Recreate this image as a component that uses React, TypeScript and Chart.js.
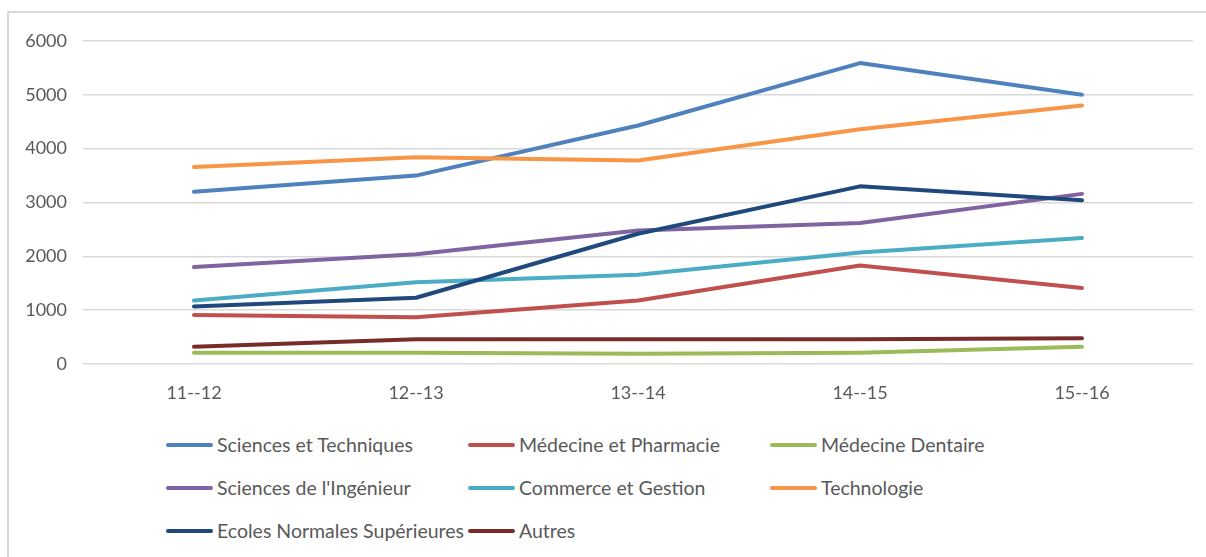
import React, { useEffect, useRef } from "react";
import { Chart, registerables } from "chart.js";

Chart.register(...registerables);

const categories = ["11--12", "12--13", "13--14", "14--15", "15--16"];
const yTicks = [0, 1000, 2000, 3000, 4000, 5000, 6000];

const seriesNames = [
  "Sciences et Techniques",
  "Médecine et Pharmacie",
  "Médecine Dentaire",
  "Sciences de l'Ingénieur",
  "Commerce et Gestion",
  "Technologie",
  "Ecoles Normales Supérieures",
  "Autres",
];
const seriesColors = [
  "#4F81BD",
  "#C0504D",
  "#9BBB59",
  "#8064A2",
  "#4BACC6",
  "#F79646",
  "#1F497D",
  "#772C2A",
];

const sciencesTechniques = [3200, 3500, 4430, 5590, 5000];
const medecinePharmacie = [910, 870, 1180, 1830, 1410];
const medecineDentaire = [210, 210, 190, 210, 320];
const sciencesIngenieur = [1800, 2040, 2480, 2620, 3160];
const commerceGestion = [1180, 1520, 1660, 2070, 2340];
const technologie = [3660, 3840, 3780, 4360, 4800];
const ecolesNormales = [1070, 1230, 2420, 3300, 3040];
const autres = [320, 460, 460, 460, 480];

const seriesValues = [
  sciencesTechniques,
  medecinePharmacie,
  medecineDentaire,
  sciencesIngenieur,
  commerceGestion,
  technologie,
  ecolesNormales,
  autres,
];

const FONT = "Lato, 'Open Sans', sans-serif";
const TEXT = "#595959";

export default function App() {
  const canvasRef = useRef<HTMLCanvasElement | null>(null);

  useEffect(() => {
    if (!canvasRef.current) return;
    const chart = new Chart(canvasRef.current, {
      type: "line",
      data: {
        labels: categories,
        datasets: seriesNames.map((name, i) => ({
          label: name,
          data: seriesValues[i],
          borderColor: seriesColors[i],
          backgroundColor: seriesColors[i],
          borderWidth: 4,
          borderCapStyle: "round" as const,
          borderJoinStyle: "round" as const,
          pointRadius: 0,
          tension: 0,
          order: seriesNames.length - i,
        })),
      },
      options: {
        animation: false,
        responsive: false,
        maintainAspectRatio: false,
        layout: { padding: { left: 0, right: 13, top: 41, bottom: 0 } },
        plugins: {
          legend: { display: false },
          tooltip: { enabled: false },
        },
        scales: {
          x: {
            offset: true,
            grid: { display: false, drawTicks: false },
            border: { display: false },
            ticks: {
              color: TEXT,
              font: { family: FONT, size: 18 },
              padding: 18,
              maxRotation: 0,
            },
            afterFit: (s: any) => {
              s.height = 56;
            },
          },
          y: {
            min: 0,
            max: 6000,
            afterBuildTicks: (s: any) => {
              s.ticks = yTicks.map((v) => ({ value: v }));
            },
            grid: { color: "#d9d9d9", lineWidth: 1.5, drawTicks: false },
            border: { display: false },
            ticks: {
              color: TEXT,
              font: { family: FONT, size: 18 },
              padding: 16,
              callback: (v: any) => String(v),
            },
            afterFit: (s: any) => {
              s.width = 83;
            },
          },
        },
      },
    });
    return () => chart.destroy();
  }, []);

  return (
    <div
      style={{
        position: "absolute",
        left: 0,
        top: 0,
        width: 1206,
        height: 557,
        overflow: "hidden",
        background: "#fff",
        fontFamily: FONT,
      }}
    >
      <div
        style={{
          position: "absolute",
          left: 7,
          top: 11,
          width: 1400,
          height: 700,
          borderLeft: "2px solid #d9d9d9",
          borderTop: "2px solid #d9d9d9",
        }}
      />
      <canvas
        ref={canvasRef}
        width={1206}
        height={420}
        style={{ position: "absolute", left: 0, top: 0, width: 1206, height: 420 }}
      />
      <div
        style={{
          position: "absolute",
          left: 166,
          top: 423,
          display: "grid",
          gridTemplateColumns: "302px 302px 302px",
          gridAutoRows: "43px",
        }}
      >
        {seriesNames.map((name, i) => (
          <div key={name} style={{ display: "flex", alignItems: "center" }}>
            <span
              style={{
                display: "inline-block",
                width: 47,
                height: 4,
                borderRadius: 2,
                background: seriesColors[i],
                marginRight: 4,
                flex: "none",
              }}
            />
            <span style={{ color: TEXT, fontSize: 19.5, whiteSpace: "nowrap" }}>{name}</span>
          </div>
        ))}
      </div>
    </div>
  );
}
